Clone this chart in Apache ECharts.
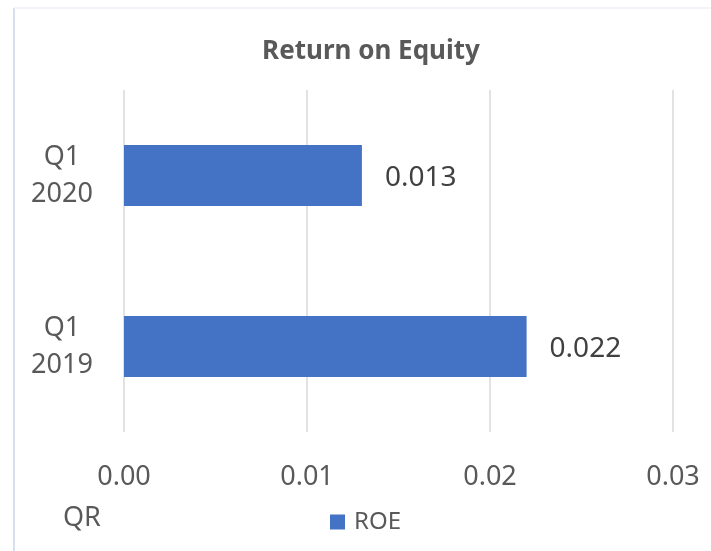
<!DOCTYPE html>
<html>
<head>
<meta charset="utf-8">
<script src="https://cdn.jsdelivr.net/npm/echarts@6/dist/echarts.min.js"></script>
<style>html,body{margin:0;padding:0;background:#fff}#c{width:711px;height:551px}</style>
</head>
<body>
<div id="c"></div>
<script>
const categories = ['Q1\n2019', 'Q1\n2020'];
const roeValues = [0.022, 0.013];
const seriesName = 'ROE';
const xTicks = { min: 0, max: 0.03, interval: 0.01 };
const titleText = 'Return on Equity';
const axisTitle = 'QR';

const FONT = '"Noto Sans", "Open Sans", sans-serif';
const chart = echarts.init(document.getElementById('c'), null, { renderer: 'canvas' });
chart.setOption({
  backgroundColor: '#ffffff',
  animation: false,
  title: {
    text: titleText,
    left: 366, top: 34, textAlign: 'center',
    textStyle: { fontFamily: FONT, fontSize: 26, fontWeight: 'bold', color: '#595959' }
  },
  legend: {
    data: [seriesName], left: 325, top: 505,
    itemWidth: 15, itemHeight: 15, itemGap: 10, icon: 'rect',
    textStyle: { fontFamily: FONT, fontSize: 24, color: '#595959', padding: [0, 0, 0, 4] }
  },
  grid: { left: 124, right: 38, top: 90, bottom: 119, containLabel: false },
  xAxis: {
    type: 'value', min: xTicks.min, max: xTicks.max, interval: xTicks.interval,
    axisLine: { show: false }, axisTick: { show: false },
    splitLine: { show: true, lineStyle: { color: '#d9d9d9', width: 1.5 } },
    axisLabel: { margin: 32, fontFamily: FONT, fontSize: 27, color: '#595959',
      formatter: v => v.toFixed(2) }
  },
  yAxis: {
    type: 'category', data: categories,
    axisLine: { show: false }, axisTick: { show: false },
    axisLabel: { margin: 62, align: 'center', fontFamily: FONT, fontSize: 27,
      lineHeight: 37, color: '#595959' }
  },
  series: [{
    name: seriesName, type: 'bar', data: roeValues, barWidth: 61,
    itemStyle: { color: '#4472c4' },
    label: { show: true, position: 'right', distance: 23, fontFamily: FONT,
      fontSize: 28, color: '#404040', offset: [0, 3], formatter: p => p.value.toFixed(3) }
  }],
  graphic: [
    { type: 'line', shape: { x1: 14, y1: 8, x2: 14, y2: 551 }, style: { stroke: '#c9d4e8', lineWidth: 1.5 } },
    { type: 'line', shape: { x1: 14, y1: 8, x2: 711, y2: 8 }, style: { stroke: '#eef1f7', lineWidth: 1.5 } },
    { type: 'text', left: 63, top: 505, style: { text: axisTitle, font: '27px "Noto Sans", sans-serif', fill: '#595959' } }
  ]
});
</script>
</body>
</html>
